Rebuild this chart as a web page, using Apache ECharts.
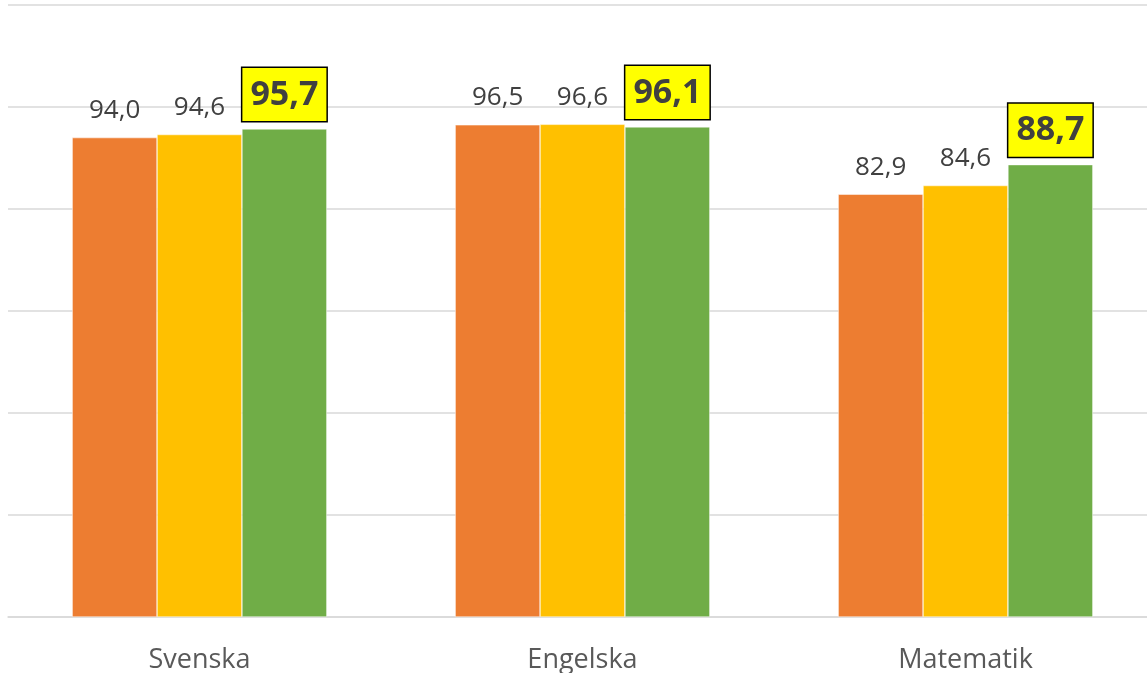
<!DOCTYPE html>
<html>
<head>
<meta charset="utf-8">
<script src="https://cdn.jsdelivr.net/npm/echarts@6/dist/echarts.min.js"></script>
<style>
  html, body { margin: 0; padding: 0; background: #fff; }
  #chart { width: 1147px; height: 673px; }
</style>
</head>
<body>
<div id="chart"></div>
<script>
  var categories = ['Svenska', 'Engelska', 'Matematik']
  var serie1 = [94.0, 96.5, 82.9]
  var serie2 = [94.6, 96.6, 84.6]
  var serie3 = [95.7, 96.1, 88.7]

  var fmt = function (p) {
    return p.value.toFixed(1).replace('.', ',')
  }

  var plainLabel = {
    show: true,
    position: 'top',
    distance: 14,
    formatter: fmt,
    color: '#404040',
    fontSize: 26,
    fontFamily: 'Open Sans'
  }

  var chart = echarts.init(document.getElementById('chart'))
  var option = {
    animation: false,
    grid: {
      left: 8,
      right: -10,
      top: 5,
      bottom: 56,
      containLabel: false,
      outerBoundsMode: 'none'
    },
    xAxis: {
      type: 'category',
      data: categories,
      axisTick: { show: false },
      axisLine: { lineStyle: { color: '#d9d9d9', width: 1.5 } },
      axisLabel: {
        color: '#595959',
        fontSize: 27,
        fontFamily: 'Open Sans',
        margin: 30
      }
    },
    yAxis: {
      type: 'value',
      min: 0,
      max: 120,
      interval: 20,
      axisLabel: { show: false },
      axisLine: { show: false },
      axisTick: { show: false },
      splitLine: { lineStyle: { color: '#d9d9d9', width: 1.5 } }
    },
    series: [
      {
        name: 'serie1',
        type: 'bar',
        data: serie1,
        barGap: '0%',
        barCategoryGap: '33.5%',
        itemStyle: { color: '#ED7D31', borderColor: '#fff', borderWidth: 0.5 },
        label: plainLabel
      },
      {
        name: 'serie2',
        type: 'bar',
        data: serie2,
        barGap: '0%',
        barCategoryGap: '33.5%',
        itemStyle: { color: '#FFC000', borderColor: '#fff', borderWidth: 0.5 },
        label: plainLabel
      },
      {
        name: 'serie3',
        type: 'bar',
        data: serie3,
        barGap: '0%',
        barCategoryGap: '33.5%',
        itemStyle: { color: '#70AD47', borderColor: '#fff', borderWidth: 0.5 },
        label: {
          show: true,
          position: 'top',
          distance: 8,
          formatter: fmt,
          color: '#404040',
          fontSize: 34,
          lineHeight: 34,
          fontWeight: 'bold',
          fontFamily: 'Open Sans',
          backgroundColor: '#FFFF00',
          borderColor: '#000',
          borderWidth: 1.5,
          padding: [10, 8, 9, 8]
        }
      }
    ]
  }
  chart.setOption(option)
</script>
</body>
</html>
